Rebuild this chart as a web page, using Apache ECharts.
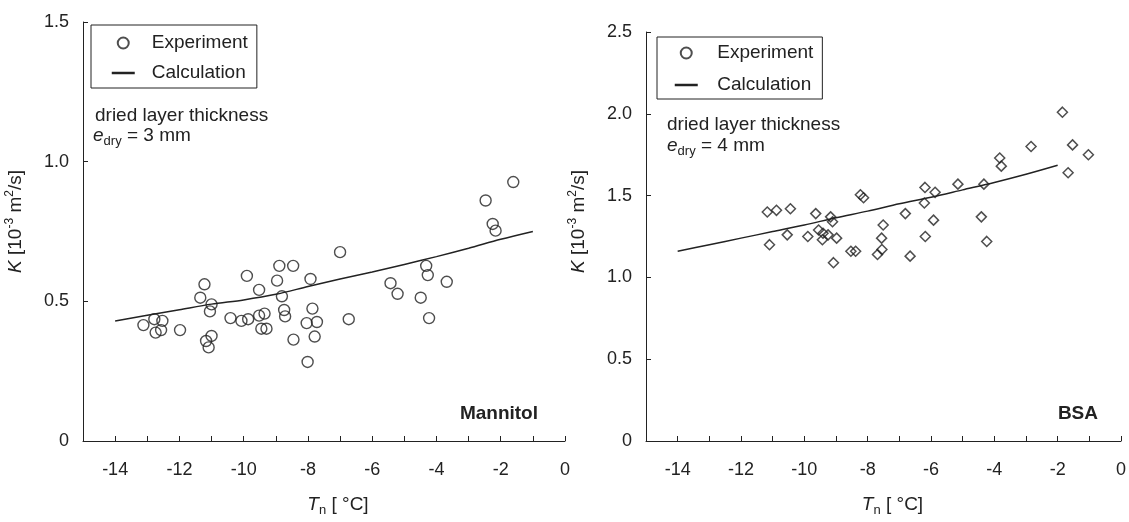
<!DOCTYPE html>
<html>
<head>
<meta charset="utf-8">
<script src="https://cdn.jsdelivr.net/npm/echarts@6/dist/echarts.min.js"></script>
<style>
  html, body { margin: 0; padding: 0; background: #fff; }
  #main { width: 1129px; height: 522px; }
</style>
</head>
<body>
<div id="main"></div>
<script>
// Mannitol, e_dry = 3 mm
const mannitolT = [-13.12, -12.78, -12.53, -12.74, -12.57, -11.98, -11.22, -11.35, -11.0, -11.05,
  -11.17, -11.0, -11.09, -10.41, -10.07, -9.86, -9.90, -9.52, -9.52, -9.35,
  -9.45, -9.29, -8.96, -8.89, -8.81, -8.74, -8.71, -8.46, -8.45, -8.04,
  -8.01, -7.92, -7.86, -7.72, -7.79, -7.0, -6.73, -5.43, -5.21, -4.49,
  -4.32, -4.27, -4.23, -3.68, -2.47, -2.25, -2.16, -1.61]
const mannitolK = [0.415, 0.436, 0.430, 0.388, 0.397, 0.397, 0.561, 0.513, 0.489, 0.464,
  0.358, 0.376, 0.335, 0.440, 0.430, 0.436, 0.591, 0.541, 0.449, 0.456,
  0.402, 0.402, 0.574, 0.627, 0.518, 0.469, 0.446, 0.627, 0.363, 0.422,
  0.283, 0.580, 0.474, 0.426, 0.374, 0.676, 0.436, 0.565, 0.527, 0.513,
  0.627, 0.594, 0.440, 0.570, 0.861, 0.777, 0.753, 0.927]
const mannitolCalcT = [-14, -13, -12, -11, -10, -9, -8, -7, -6, -5, -4, -3, -2, -1]
const mannitolCalcK = [0.43, 0.45, 0.47, 0.49, 0.505, 0.525, 0.553, 0.58, 0.605, 0.632, 0.66, 0.69, 0.722, 0.75]

// BSA, e_dry = 4 mm
const bsaT = [-11.17, -10.88, -10.44, -11.10, -10.54, -9.89, -9.64, -9.17, -9.11, -9.55,
  -9.41, -9.25, -9.43, -8.98, -9.08, -8.53, -8.38, -8.23, -8.13, -7.69,
  -7.55, -7.56, -7.51, -6.81, -6.66, -6.19, -5.87, -6.21, -5.92, -6.18,
  -5.15, -4.33, -4.41, -4.24, -3.83, -3.78, -2.84, -1.85, -1.53, -1.03, -1.67]
const bsaK = [1.40, 1.41, 1.42, 1.20, 1.26, 1.25, 1.39, 1.37, 1.34, 1.29,
  1.27, 1.26, 1.23, 1.24, 1.09, 1.16, 1.16, 1.505, 1.487, 1.14,
  1.17, 1.24, 1.32, 1.39, 1.13, 1.55, 1.52, 1.455, 1.35, 1.25,
  1.57, 1.57, 1.37, 1.22, 1.73, 1.68, 1.80, 2.01, 1.81, 1.75, 1.64]
const bsaCalcT = [-14, -13, -12, -11, -10, -9, -8, -7, -6, -5, -4, -3, -2]
const bsaCalcK = [1.16, 1.20, 1.24, 1.28, 1.32, 1.365, 1.405, 1.45, 1.49, 1.535, 1.58, 1.63, 1.685]

const xTickLabels = [-14, -12, -10, -8, -6, -4, -2, 0]

const ink = '#222'
const font = 'Liberation Sans, Arial, sans-serif'

function pairs (xs, ys) {
  return xs.map((x, i) => [x, ys[i]])
}

let myChart = echarts.init(document.getElementById('main'))

function xAxisOf (gridIndex, namePad) {
  return {
    type: 'value',
    gridIndex: gridIndex,
    min: -15,
    max: 0,
    interval: 1,
    name: '{t|T}{sub|n} [ °C]',
    nameLocation: 'middle',
    nameGap: 52,
    nameTextStyle: {
      color: ink,
      fontSize: 19,
      padding: [0, 0, 0, namePad],
      rich: {
        t: { fontStyle: 'italic', fontSize: 19, color: ink, lineHeight: 24, verticalAlign: 'middle' },
        sub: { fontSize: 13, color: ink, lineHeight: 13, verticalAlign: 'bottom' }
      }
    },
    axisLine: { onZero: false, lineStyle: { color: ink, width: 1 } },
    axisTick: { inside: true, length: 5, lineStyle: { color: ink } },
    axisLabel: {
      color: ink,
      fontSize: 18,
      margin: 20,
      formatter: function (v) {
        return xTickLabels.indexOf(v) >= 0 ? String(v) : ''
      }
    },
    splitLine: { show: false }
  }
}

function yAxisOf (gridIndex, max, namePad) {
  return {
    type: 'value',
    gridIndex: gridIndex,
    position: 'left',
    min: 0,
    max: max,
    interval: 0.5,
    name: '{k|K} [10{sup|-3} m{sup|2}/s]',
    nameLocation: 'middle',
    nameGap: 55,
    nameTextStyle: {
      color: ink,
      fontSize: 19,
      padding: [0, 0, 0, namePad],
      rich: {
        k: { fontStyle: 'italic', fontSize: 19, color: ink, lineHeight: 24, verticalAlign: 'middle' },
        sup: { fontSize: 12, color: ink, lineHeight: 12, verticalAlign: 'top' }
      }
    },
    axisLine: { show: true, onZero: false, lineStyle: { color: ink, width: 1 } },
    axisTick: { show: true, inside: true, length: 5, lineStyle: { color: ink } },
    axisLabel: {
      color: ink,
      fontSize: 18,
      margin: 14,
      formatter: function (v) {
        return v === 0 ? '0' : v.toFixed(1)
      }
    },
    splitLine: { show: false }
  }
}

function legendOf (left, top, gap, pad, textPad) {
  return {
    orient: 'vertical',
    left: left,
    top: top,
    itemGap: gap,
    itemWidth: 23,
    itemHeight: 11,
    padding: pad,
    borderColor: ink,
    borderWidth: 1,
    textStyle: { color: ink, fontSize: 19, lineHeight: 20, padding: [0, 0, 0, textPad] },
    data: [
      { name: 'Experiment' },
      { name: 'Calculation', itemStyle: { opacity: 0 }, lineStyle: { width: 2.5, color: ink } }
    ]
  }
}

function noteText (x, y, text) {
  return {
    type: 'text',
    left: x,
    top: y,
    style: {
      text: text,
      fill: ink,
      fontSize: 19,
      fontFamily: font,
      rich: {
        e: { fontStyle: 'italic', fontSize: 19, fill: ink, lineHeight: 24, verticalAlign: 'middle' },
        sub: { fontSize: 13, fill: ink, lineHeight: 13, verticalAlign: 'bottom' },
        n: { fontSize: 19, fill: ink, lineHeight: 24, verticalAlign: 'middle' }
      }
    }
  }
}

let option = {
  animation: false,
  textStyle: { fontFamily: font },
  grid: [
    { left: 83, top: 22, width: 482, bottom: 76 },
    { left: 646, top: 32, width: 475, bottom: 76 }
  ],
  xAxis: [xAxisOf(0, 28), xAxisOf(1, 18)],
  yAxis: [yAxisOf(0, 1.5, 20), yAxisOf(1, 2.5, 30)],
  legend: [
    legendOf(91, 25, 10, [8, 9, 5, 19.5], 12),
    legendOf(657, 37, 12, [6, 9, 4, 16.5], 14.5)
  ],
  graphic: [
    noteText(95, 106, '{n|dried layer thickness}'),
    noteText(93, 126, '{e|e}{sub|dry}{n| = 3 mm}'),
    noteText(667, 115, '{n|dried layer thickness}'),
    noteText(667, 136, '{e|e}{sub|dry}{n| = 4 mm}'),
    {
      type: 'text', right: 1129 - 538, top: 404,
      style: { text: 'Mannitol', fill: ink, fontSize: 19, fontWeight: 'bold', fontFamily: font }
    },
    {
      type: 'text', right: 1129 - 1098, top: 404,
      style: { text: 'BSA', fill: ink, fontSize: 19, fontWeight: 'bold', fontFamily: font }
    }
  ],
  series: [
    {
      name: 'Calculation',
      type: 'line',
      xAxisIndex: 0,
      yAxisIndex: 0,
      symbol: 'none',
      smooth: 0.3,
      lineStyle: { color: ink, width: 1.5 },
      itemStyle: { color: ink },
      data: pairs(mannitolCalcT, mannitolCalcK)
    },
    {
      name: 'Experiment',
      type: 'scatter',
      xAxisIndex: 0,
      yAxisIndex: 0,
      symbol: 'circle',
      symbolSize: 11,
      itemStyle: { color: 'rgba(255,255,255,0)', borderColor: ink, borderWidth: 1.4 },
      data: pairs(mannitolT, mannitolK)
    },
    {
      name: 'Calculation',
      type: 'line',
      xAxisIndex: 1,
      yAxisIndex: 1,
      symbol: 'none',
      smooth: 0.3,
      lineStyle: { color: ink, width: 1.5 },
      itemStyle: { color: ink },
      data: pairs(bsaCalcT, bsaCalcK)
    },
    {
      name: 'Experiment',
      type: 'scatter',
      xAxisIndex: 1,
      yAxisIndex: 1,
      symbol: 'diamond',
      symbolSize: 10,
      itemStyle: { color: 'rgba(255,255,255,0)', borderColor: ink, borderWidth: 1.5 },
      data: pairs(bsaT, bsaK)
    }
  ]
}
myChart.setOption(option)
</script>
</body>
</html>
